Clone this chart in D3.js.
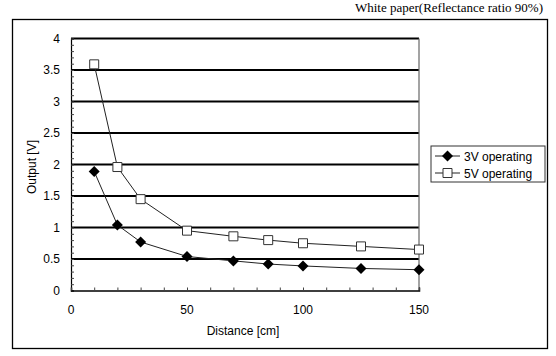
<!DOCTYPE html>
<html><head><meta charset="utf-8">
<script src="https://cdn.jsdelivr.net/npm/d3@7"></script>
<style>body{margin:0;background:#fff}svg{display:block}</style>
</head><body>
<script>
const distances = [10, 20, 30, 50, 70, 85, 100, 125, 150];
const v3 = [1.89, 1.04, 0.77, 0.54, 0.47, 0.42, 0.39, 0.35, 0.33];
const v5 = [3.59, 1.96, 1.45, 0.95, 0.86, 0.80, 0.75, 0.70, 0.65];
const seriesNames = ["3V operating", "5V operating"];
const xTicks = [0, 50, 100, 150];
const yTicks = [0, 0.5, 1, 1.5, 2, 2.5, 3, 3.5, 4];
const title = "White paper(Reflectance ratio 90%)";

const W = 556, H = 356;
const svg = d3.select("body").append("svg").attr("width", W).attr("height", H);
const font = "'Liberation Sans', Arial, sans-serif";

svg.append("text").attr("x", 543).attr("y", 12).attr("text-anchor", "end")
  .attr("font-family", "'Liberation Serif','Times New Roman',serif").attr("font-size", 13).text(title);

svg.append("rect").attr("x", 12.5).attr("y", 19.5).attr("width", 535).attr("height", 329)
  .attr("fill", "none").attr("stroke", "#000").attr("stroke-width", 1.3);

const x = d3.scaleLinear().domain([0, 150]).range([71, 419]);
const y = d3.scaleLinear().domain([0, 4]).range([290.5, 38.5]);

// gridlines
svg.append("g").selectAll("line").data(yTicks.filter(d => d > 0)).join("line")
  .attr("x1", x(0)).attr("x2", x(150)).attr("y1", d => y(d)).attr("y2", d => y(d))
  .attr("stroke", "#000").attr("stroke-width", 2.2);

// right border
svg.append("line").attr("x1", x(150)).attr("x2", x(150)).attr("y1", y(4)).attr("y2", y(0))
  .attr("stroke", "#666").attr("stroke-width", 1.2);

// y axis
const yAxis = svg.append("g").attr("transform", `translate(${x(0)},0)`)
  .call(d3.axisLeft(y).tickValues(d3.range(0, 4.001, 0.1)).tickSize(-3).tickFormat(""));
yAxis.select(".domain").attr("stroke-width", 1.2);
yAxis.selectAll(".tick line").attr("stroke", "#444");
svg.append("g").selectAll("text").data(yTicks).join("text")
  .attr("x", 60).attr("y", d => y(d) + 4).attr("text-anchor", "end")
  .attr("font-family", font).attr("font-size", 12).text(d => d);

// x axis
const xAxis = svg.append("g").attr("transform", `translate(0,${y(0)})`)
  .call(d3.axisBottom(x).tickValues(d3.range(0, 151, 10)).tickSize(-3).tickFormat(""));
xAxis.select(".domain").attr("stroke-width", 1.5);
xAxis.selectAll(".tick line").attr("stroke", "#444");
svg.append("g").selectAll("text").data(xTicks).join("text")
  .attr("x", d => x(d)).attr("y", 314).attr("text-anchor", "middle")
  .attr("font-family", font).attr("font-size", 12).text(d => d);

svg.append("text").attr("x", 243).attr("y", 335).attr("text-anchor", "middle")
  .attr("font-family", font).attr("font-size", 12).text("Distance [cm]");
svg.append("text").attr("transform", "translate(36,167) rotate(-90)").attr("text-anchor", "middle")
  .attr("font-family", font).attr("font-size", 12).text("Output [V]");

const line = d3.line().x(d => x(d[0])).y(d => y(d[1]));
const d3s = distances.map((d, i) => [d, v3[i]]);
const d5s = distances.map((d, i) => [d, v5[i]]);
const diamond = "M0,-5.5L5.5,0L0,5.5L-5.5,0Z";
const square = "M-4.5,-4.5H4.5V4.5H-4.5Z";

svg.append("path").attr("d", line(d3s)).attr("fill", "none").attr("stroke", "#222").attr("stroke-width", 1);
svg.append("path").attr("d", line(d5s)).attr("fill", "none").attr("stroke", "#222").attr("stroke-width", 1);
svg.append("g").selectAll("path").data(d3s).join("path")
  .attr("transform", d => `translate(${x(d[0])},${y(d[1])})`).attr("d", diamond).attr("fill", "#000");
svg.append("g").selectAll("path").data(d5s).join("path")
  .attr("transform", d => `translate(${x(d[0])},${y(d[1])})`).attr("d", square)
  .attr("fill", "#fff").attr("stroke", "#333").attr("stroke-width", 1);

// legend
const lg = svg.append("g");
lg.append("rect").attr("x", 431).attr("y", 146).attr("width", 114).attr("height", 36)
  .attr("fill", "#fff").attr("stroke", "#333").attr("stroke-width", 1);
const rows = [{name: seriesNames[0], sym: "d", yy: 156}, {name: seriesNames[1], sym: "s", yy: 173}];
rows.forEach(r => {
  lg.append("line").attr("x1", 435).attr("x2", 460).attr("y1", r.yy).attr("y2", r.yy).attr("stroke", "#222");
  if (r.sym === "d") lg.append("path").attr("transform", `translate(447.5,${r.yy})`).attr("d", diamond).attr("fill", "#000");
  else lg.append("path").attr("transform", `translate(447.5,${r.yy})`).attr("d", square).attr("fill", "#fff").attr("stroke", "#333");
  lg.append("text").attr("x", 464).attr("y", r.yy + 4.5).attr("font-family", font).attr("font-size", 12).text(r.name);
});
</script>
</body></html>
